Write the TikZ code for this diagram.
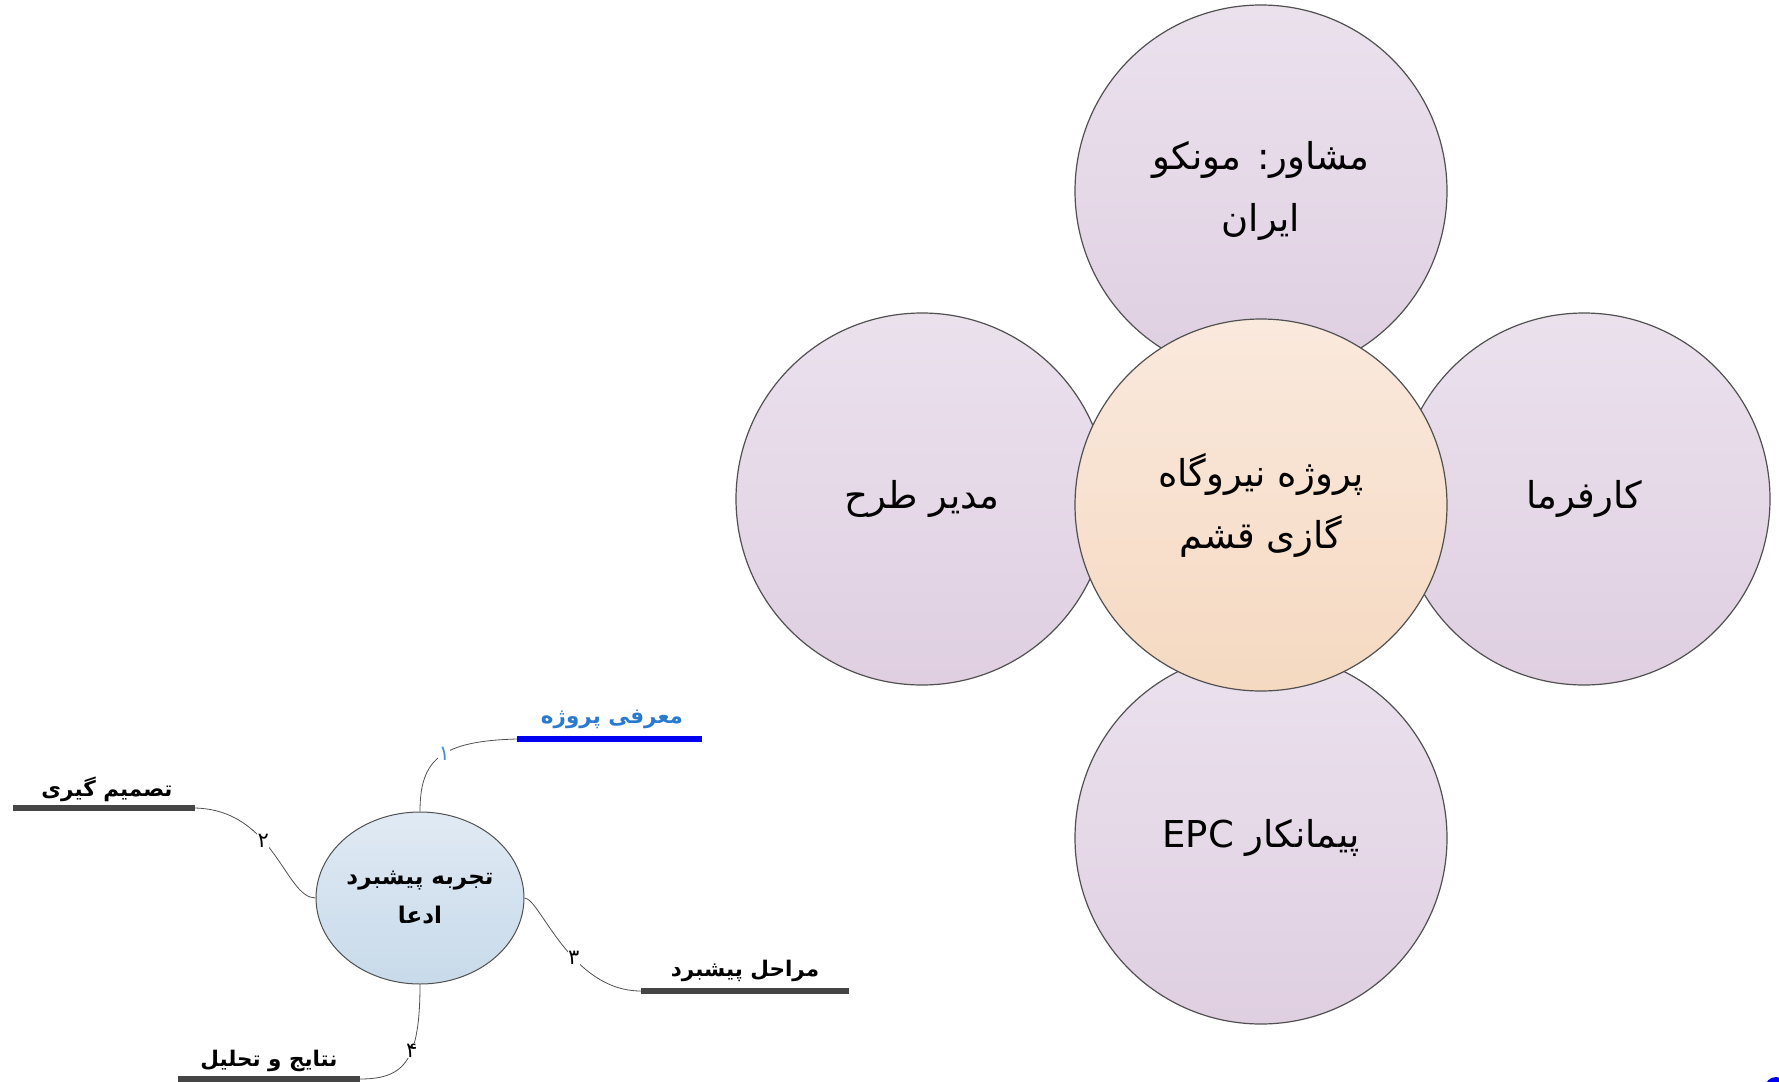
\documentclass[tikz,border=0pt]{standalone}
\usepackage{fontspec}
\newfontfamily\fa[Script=Arabic]{DejaVu Sans}
\TeXXeTstate=1
\usetikzlibrary{shapes.geometric}
\usetikzlibrary{positioning}
\newcommand{\fat}[1]{\beginR #1\endR}
\definecolor{roletop}{HTML}{EBE1ED}
\definecolor{rolebot}{HTML}{DFCFE1}
\definecolor{hubtop}{HTML}{FAE9DD}
\definecolor{hubbot}{HTML}{F5D9C1}
\definecolor{claimtop}{HTML}{E0EAF4}
\definecolor{claimbot}{HTML}{C8DAEA}
\definecolor{edgegray}{HTML}{505050}
\definecolor{bargray}{HTML}{454545}
\definecolor{barblue}{HTML}{0000F0}
\definecolor{topicblue}{HTML}{2A7BD0}
\definecolor{numblue}{HTML}{4A90D0}

\begin{document}
\begin{tikzpicture}[x=1pt,y=-1pt,
    role node/.style={circle,draw=edgegray,line width=1.2pt,minimum size=372pt,inner sep=0pt,
      top color=roletop,bottom color=rolebot,align=center,font=\fa\fontsize{37}{62}\selectfont},
    hub node/.style={role node,top color=hubtop,bottom color=hubbot},
    claim node/.style={ellipse,draw=edgegray,line width=1pt,minimum width=207pt,minimum height=172pt,
      inner sep=0pt,top color=claimtop,bottom color=claimbot,align=center,font=\fa\bfseries\fontsize{23}{39}\selectfont},
    topic node/.style={font=\fa\bfseries\fontsize{21.5}{26}\selectfont,inner sep=0pt},
    num node/.style={font=\fa\fontsize{21}{24}\selectfont,fill=white,inner sep=0.5pt},
    link/.style={-,line width=0.8pt,draw=edgegray},
    bar/.style={-,line width=6pt,draw=bargray}]
   \useasboundingbox (0,0) rectangle (1779,1081);
   \begin{scope}
     % stakeholders round the project
     \node[role node] (advisor) at (1261,191) {\fat{مشاور: مونکو}\\\fat{ایران}};
     \node[role node] (manager) at (922,499) {\fat{مدیر طرح}};
     \node[role node] (owner) at (1584,499) {\fat{کارفرما}};
     \node[role node] (epc) at (1261,838) {\fat{پیمانکار \beginL EPC\endL}};
     \node[hub node] (hub) at (1261,505) {\fat{پروژه نیروگاه}\\\fat{گازی قشم}};
   \end{scope}
   \begin{scope}
     % mind map
     \node[claim node] (claim) at (420,898) {\fat{تجربه پیشبرد}\\\fat{ادعا}};
     \coordinate (b1l) at (517,739); \coordinate (b1r) at (702,739);
     \coordinate (b2l) at (13,808);  \coordinate (b2r) at (195,808);
     \coordinate (b3l) at (641,991); \coordinate (b3r) at (849,991);
     \coordinate (b4l) at (178,1079); \coordinate (b4r) at (360,1079);
     \path[bar,draw=barblue] (b1l) edge (b1r);
     \path[bar] (b2l) edge (b2r);
     \path[bar] (b3l) edge (b3r);
     \path[bar] (b4l) edge (b4r);
     \node[topic node,text=topicblue] (intro) at (612,719) {\fat{معرفی پروژه}};
     \node[topic node] (decide) at (107,789) {\fat{تصمیم گیری}};
     \node[topic node] (steps) at (745,971) {\fat{مراحل پیشبرد}};
     \node[topic node] (result) at (269,1061) {\fat{نتایج و تحلیل}};
     \draw[link] (claim.north) .. controls (420,760) and (440,741) .. node[num node,text=numblue,pos=0.55] {۱} (b1l);
     \draw[link] (b2r) .. controls (275,810) and (285,898) .. node[num node,pos=0.4] {۲} (claim.west);
     \draw[link] (claim.east) .. controls (540,898) and (570,991) .. node[num node,pos=0.6] {۳} (b3l);
     \draw[link] (claim.south) .. controls (420,1060) and (405,1079) .. node[num node,pos=0.4] {۴} (b4r);
     %\node at (1776,1088) {};
     \node[circle,fill=barblue,minimum size=22pt,inner sep=0pt] (dot) at (1776,1088) {};
   \end{scope}
\end{tikzpicture}
\end{document}
